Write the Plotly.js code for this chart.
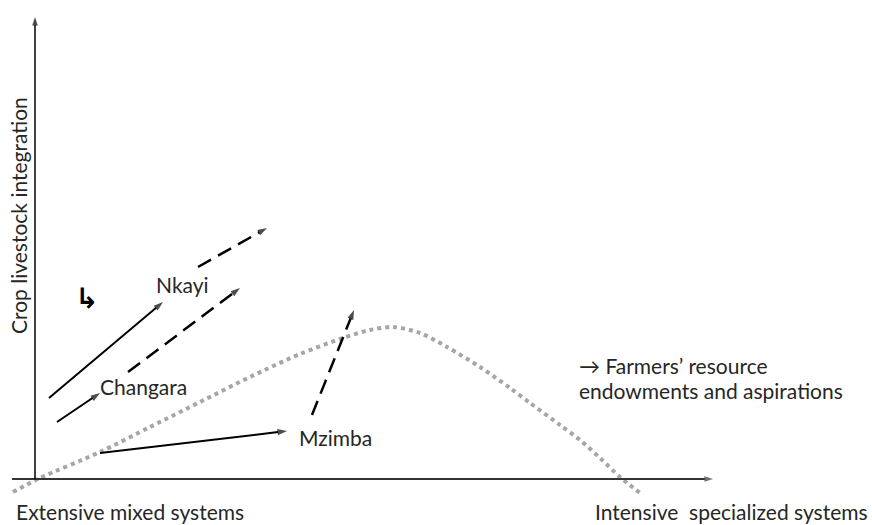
<!DOCTYPE html>
<html>
<head>
<meta charset="utf-8">
<script src="https://cdn.plot.ly/plotly-3.0.1.min.js"></script>
<style>html,body{margin:0;padding:0;background:#fff;}#chart{width:872px;height:525px;}</style>
</head>
<body>
<div id="chart"></div>
<script>
// Conceptual coordinates: origin at the axes' crossing
const curveX = [-22, 5, 65, 115, 165, 215, 265, 308, 335, 358, 385, 412, 445, 475, 495, 525, 545, 565, 585, 605];
const curveY = [-13, 1, 27, 52, 77, 102, 125, 141, 149, 152, 146, 132, 112, 91, 76, 54, 39, 21, 2, -14];

const arrowNames = ["Nkayi", "Changara", "Changara future", "Nkayi future", "Mzimba", "Mzimba future"];
const arrowX0 = [14, 22, 93, 163, 65, 277];
const arrowY0 = [81, 57, 107, 212, 26, 64];
const arrowX1 = [128, 65, 205, 232, 252, 319];
const arrowY1 = [177, 86, 191, 251, 48, 169];
const arrowDashed = [false, false, true, true, false, true];

const siteLabels = ["Nkayi", "Changara", "Mzimba"];
const siteLabelX = [147, 63, 262];
const siteLabelY = [195, 93, 42];

const xAxisFrom = [-23, 0], xAxisTo = [678, 0];
const yAxisFrom = [0, 0], yAxisTo = [0, 462];

const FONT = "Lato, 'Open Sans', sans-serif";
const FS = 21;
const TXT = "#262626";
const traces = [];

traces.push({
  x: curveX, y: curveY, mode: "lines", type: "scatter",
  line: {color: "#a6a6a6", width: 4, dash: "dot", shape: "spline", smoothing: 0.8},
  hoverinfo: "skip", showlegend: false
});

function arrowTrace(x0, y0, x1, y1, color, width, dash, size) {
  return {
    x: [x0, x1], y: [y0, y1], mode: "lines+markers", type: "scatter",
    line: {color: color, width: width, dash: dash},
    marker: {symbol: "arrow", angleref: "previous", size: [0, size], color: color, line: {width: 0}},
    hoverinfo: "skip", showlegend: false, cliponaxis: false
  };
}

traces.push(arrowTrace(xAxisFrom[0], xAxisFrom[1], xAxisTo[0], xAxisTo[1], "#333", 2, "solid", 9));
traces.push(arrowTrace(yAxisFrom[0], yAxisFrom[1], yAxisTo[0], yAxisTo[1], "#000", 1.5, "solid", 9));

for (let i = 0; i < arrowNames.length; i++) {
  traces.push(arrowTrace(arrowX0[i], arrowY0[i], arrowX1[i], arrowY1[i], "#000",
    arrowDashed[i] ? 2.5 : 2, arrowDashed[i] ? "15px,8px" : "solid", 10));
}

const annotations = [];
for (let i = 0; i < siteLabels.length; i++) {
  annotations.push({x: siteLabelX[i], y: siteLabelY[i], text: siteLabels[i], showarrow: false,
    xanchor: i === 0 ? "center" : "left", yanchor: "middle", font: {family: FONT, size: FS, color: TXT}});
}
annotations.push({x: 542, y: 114, text: "\u2192 Farmers\u2019 resource", showarrow: false, xanchor: "left", yanchor: "middle",
  font: {family: FONT, size: FS, color: TXT}});
annotations.push({x: 542, y: 89, text: "endowments and aspirations", showarrow: false, xanchor: "left", yanchor: "middle",
  font: {family: FONT, size: FS, color: TXT}});
annotations.push({x: -21, y: -32, text: "Extensive mixed systems", showarrow: false, xanchor: "left", yanchor: "middle",
  font: {family: FONT, size: FS, color: TXT}});
annotations.push({x: 835, y: -32, text: "Intensive&nbsp;&nbsp;specialized systems", showarrow: false, xanchor: "right", yanchor: "middle",
  font: {family: FONT, size: FS, color: TXT}});
annotations.push({x: -17, y: 263, text: "Crop livestock integration", showarrow: false, textangle: -90,
  xanchor: "center", yanchor: "middle", font: {family: FONT, size: FS, color: TXT}});
annotations.push({x: 51, y: 181, text: "<b>\u21b3</b>", showarrow: false, xanchor: "center", yanchor: "middle",
  font: {family: "DejaVu Sans", size: 28, color: "#000"}});

const layout = {
  width: 872, height: 525,
  margin: {l: 0, r: 0, t: 0, b: 0},
  paper_bgcolor: "#fff", plot_bgcolor: "#fff",
  xaxis: {range: [-35, 837], visible: false, fixedrange: true},
  yaxis: {range: [-46, 479], visible: false, fixedrange: true},
  annotations: annotations,
  showlegend: false
};

Plotly.newPlot("chart", traces, layout, {displayModeBar: false, staticPlot: true});
</script>
</body>
</html>
